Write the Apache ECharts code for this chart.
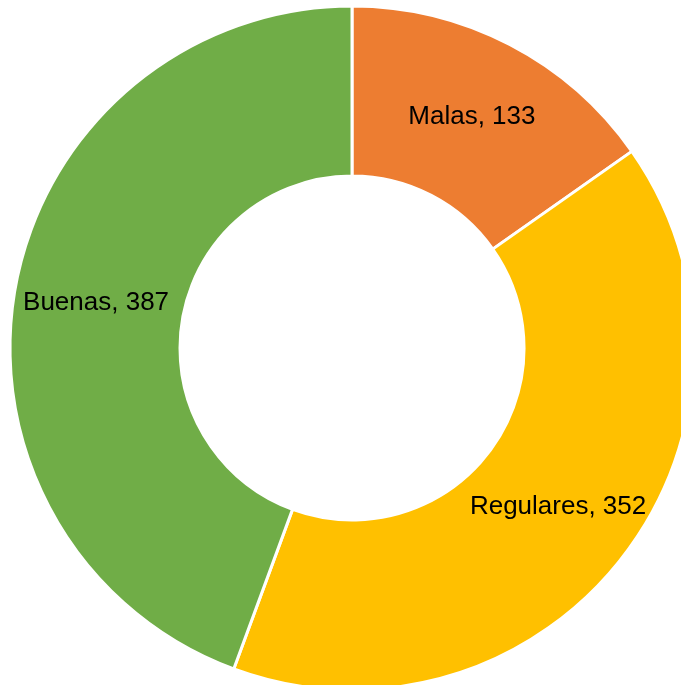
<!DOCTYPE html>
<html>
<head>
<meta charset="utf-8">
<script src="https://cdn.jsdelivr.net/npm/echarts@6/dist/echarts.min.js"></script>
<style>
	html, body { margin: 0; padding: 0; background: #fff; }
	#chart { width: 681px; height: 685px; }
</style>
</head>
<body>
<div id="chart"></div>
<script>
	const categories = ["Malas", "Regulares", "Buenas"];
	const values = [133, 352, 387];
	const colors = ["#ED7D31", "#FFC000", "#70AD47"];

	const chart = echarts.init(document.getElementById("chart"));

	let data = [];
	for (let i = 0; i < categories.length; i++) {
		data.push({ name: categories[i], value: values[i], itemStyle: { color: colors[i] } })
	}

	chart.setOption({
		backgroundColor: "#fff",
		animation: false,
		series: [{
			type: "pie",
			center: [352, 348],
			radius: [172, 342],
			startAngle: 90,
			clockwise: true,
			data: data,
			itemStyle: { borderColor: "#fff", borderWidth: 3 },
			label: {
				show: true,
				position: "inside",
				formatter: "{b}, {c}",
				color: "#000",
				fontSize: 26,
				fontFamily: "Liberation Sans, Arial, sans-serif"
			},
			labelLine: { show: false },
			emphasis: { disabled: true }
		}]
	});
</script>
</body>
</html>
